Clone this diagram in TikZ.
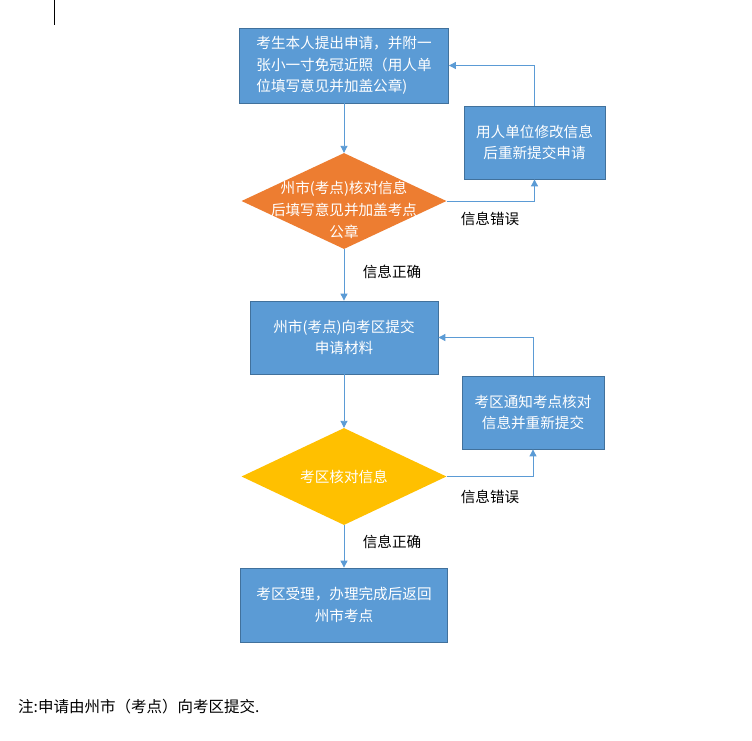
\documentclass[tikz,border=0pt]{standalone}
\usepackage{fontspec}
\setmainfont{Noto Sans CJK SC}
\usetikzlibrary{shapes.geometric,arrows.meta}
\definecolor{bluefill}{HTML}{5B9BD5}
\definecolor{blueline}{HTML}{41719C}
\definecolor{orangefill}{HTML}{ED7D31}
\definecolor{yellowfill}{HTML}{FFC000}
\tikzset{
  procbox/.style={rectangle, fill=bluefill, draw=blueline, line width=0.8pt, text=white, inner sep=0pt, align=center, font=\fontsize{14.6}{21.5}\selectfont},
  decision/.style={diamond, inner sep=0pt, draw=none},
  dtext/.style={text=white, align=center, font=\fontsize{14.6}{22}\selectfont, inner sep=0pt},
  arr/.style={draw=bluefill, line width=0.9pt, -{Triangle[width=7pt,length=7pt]}},
  lbl/.style={text=black, font=\fontsize{14.6}{16}\selectfont, inner sep=0pt}
}
\begin{document}
\begin{tikzpicture}[x=1pt,y=-1pt]
\useasboundingbox (0,0) rectangle (752,740);
\fill[white] (0,0) rectangle (752,740);
\draw[black, line width=1pt] (54,0) -- (54,25);

\node[procbox, minimum width=209pt, minimum height=75pt, align=left] (b1) at (344,65.5)
  {考生本人提出申请，并附一\\张小一寸免冠近照（用人单\\位填写意见并加盖公章)};
\node[decision, fill=orangefill, minimum width=205pt, minimum height=96pt] (d1) at (344,201) {};
\node[dtext] (t1) at (344,210) {州市(考点)核对信息\\后填写意见并加盖考点\\公章};
\node[procbox, minimum width=141pt, minimum height=73pt] (b2) at (534.5,142.5)
  {用人单位修改信息\\后重新提交申请};

\node[procbox, minimum width=188pt, minimum height=73pt] (b3) at (344,337.5)
  {州市(考点)向考区提交\\申请材料};
\node[decision, fill=yellowfill, minimum width=205pt, minimum height=97pt] (d2) at (344,476.5) {};
\node[dtext] (t2) at (d2.center) {考区核对信息};
\node[procbox, minimum width=142pt, minimum height=73pt] (b4) at (533,412.5)
  {考区通知考点核对\\信息并重新提交};

\node[procbox, minimum width=207pt, minimum height=74pt] (b5) at (344,605)
  {考区受理，办理完成后返回\\州市考点};

\draw[arr] (b1.south) -- (d1.north);
\draw[arr] (d1.east) -| (b2.south);
\draw[arr] (b2.north) |- (b1.east);
\draw[arr] (d1.south) -- (b3.north);
\draw[arr] (b3.south) -- (d2.north);
\draw[arr] (d2.east) -| (b4.south);
\draw[arr] (b4.north) |- (b3.east);
\draw[arr] (d2.south) -- (b5.north);

\node[lbl] (e1) at (490,219) {信息错误};
\node[lbl] (c1) at (392,272) {信息正确};
\node[lbl] (e2) at (490,497) {信息错误};
\node[lbl] (c2) at (392,542) {信息正确};

\node[lbl, anchor=west, font=\fontsize{15.5}{17}\selectfont] (note) at (18,707) {注:申请由州市（考点）向考区提交.};
\end{tikzpicture}
\end{document}
